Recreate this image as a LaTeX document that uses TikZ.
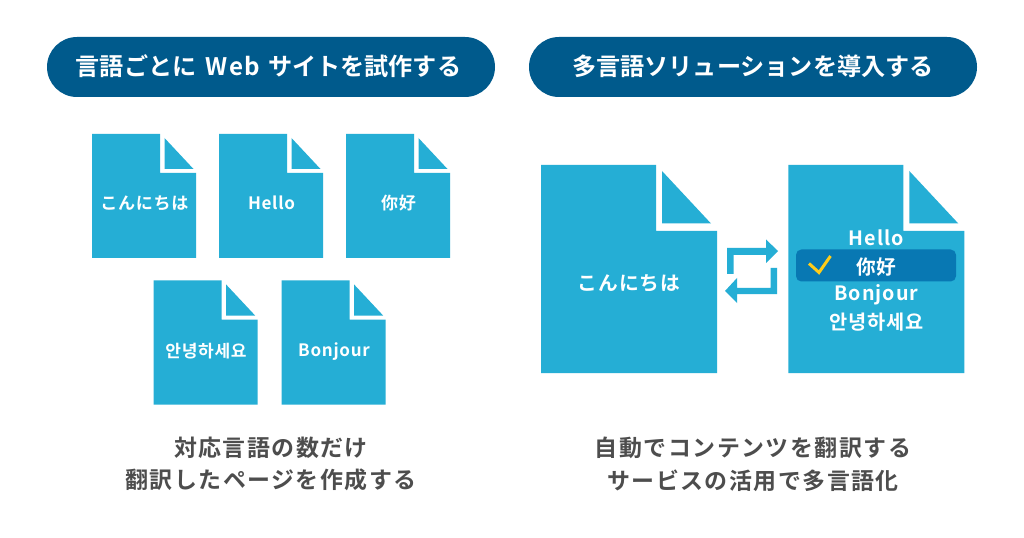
\documentclass[tikz,border=0pt]{standalone}
\usepackage{fontspec}
\setmainfont{Noto Sans CJK JP}[BoldFont={Noto Sans CJK JP Bold}]
\newfontfamily\jpb{Noto Sans CJK JP Bold}
\newfontfamily\jpbT{Noto Sans CJK JP Bold}[LetterSpace=5]
\newfontfamily\jpbS{Noto Sans CJK JP Bold}[LetterSpace=4]
\newfontfamily\jpbB{Noto Sans CJK JP Bold}[LetterSpace=5]
\newfontfamily\jpbC{Noto Sans CJK JP Bold}[LetterSpace=6.5]
\definecolor{pillblue}{HTML}{005A8C}
\definecolor{docblue}{HTML}{25AED5}
\definecolor{selblue}{HTML}{0878B3}
\definecolor{chk}{HTML}{FFCC1A}
\definecolor{txtgray}{HTML}{4D4D4D}
\tikzset{
 x=0.75pt,y=-0.75pt,
 pill/.style={fill=pillblue,rounded corners=22.5pt,draw=none},
 ttl/.style={text=white,font=\jpb\fontsize{18.1pt}{22pt}\selectfont,inner sep=0},
 docfill/.style={fill=docblue,draw=none},
 lbl/.style={text=white,font=\jpbS\fontsize{12.8pt}{15pt}\selectfont,inner sep=0},
 lbig/.style={text=white,font=\jpbB\fontsize{14.8pt}{17pt}\selectfont,inner sep=0},
 captxt/.style={text=txtgray,font=\jpbC\fontsize{17.2pt}{24.5pt}\selectfont,inner sep=0,align=center},
}
\newcommand{\smalldoc}[2]{%
 \fill[docfill] (#1,#2) -- ++(68,0) -- ++(0,39) -- ++(36,0) -- ++(0,85) -- ++(-104,0) -- cycle;
 \fill[docfill] (#1+72.5,#2+4) -- ++(0,31) -- ++(29,0) -- cycle;}
\newcommand{\bigdoc}[2]{%
 \fill[docfill] (#1,#2) -- ++(115,0) -- ++(0,66) -- ++(61,0) -- ++(0,142) -- ++(-176,0) -- cycle;
 \fill[docfill] (#1+121,#2+6) -- ++(0,52.5) -- ++(49,0) -- cycle;}
\begin{document}
\begin{tikzpicture}
\useasboundingbox (0,0) rectangle (1024,538);
\fill[white] (0,0) rectangle (1024,538);
\fill[pill] (47,37) rectangle (495,97);
\fill[pill] (529,37) rectangle (977,97);
\node[ttl] (t1) at (268.5,66.5) {言語ごとに\hspace{3pt} {\jpbT\fontsize{18.1pt}{22pt}\selectfont Web}\hspace{2pt} サイトを試作する};
\node[ttl] (t2) at (753,66.5) {多言語ソリューションを導入する};
\smalldoc{92}{134}\smalldoc{219}{134}\smalldoc{346}{134}
\smalldoc{153.6}{280.5}\smalldoc{281.6}{280.5}
\node[lbl] (a) at (144.5,203) {こんにちは};
\node[lbl] (b) at (271.5,203) {Hello};
\node[lbl] (c) at (398.5,203) {你好};
\node[lbl] (d) at (206,351) {안녕하세요};
\node[lbl] (e) at (334,351.5) {Bonjour};
\bigdoc{541}{165}\bigdoc{788.3}{165}
\node[lbig] (f) at (629,283.5) {こんにちは};
\fill[selblue,rounded corners=4pt] (796,249.5) rectangle (956,281.5);
\node[lbig] (g) at (876.5,238) {Hello};
\node[lbig] (h) at (876.5,267) {你好};
\node[lbig] (i) at (876.5,295) {Bonjour};
\node[lbig] (j) at (876.5,322) {안녕하세요};
\draw[chk,line width=2.25pt] (809,263.5) -- (819,272.5) -- (830.5,256);
\fill[docblue] (727,274) -- (727,248) -- (766,248) -- (766,239.5) -- (778,251) -- (766,263) -- (766,255) -- (733.5,255) -- (733.5,274) -- cycle;
\fill[docblue] (777,268) -- (777,294) -- (737,294) -- (737,303) -- (725,291) -- (737,278) -- (737,288) -- (770.5,288) -- (770.5,268) -- cycle;
\node[captxt] (k) at (271,464) {対応言語の数だけ\\翻訳したページを作成する};
\node[captxt] (l) at (753,464) {自動でコンテンツを翻訳する\\サービスの活用で多言語化};
\end{tikzpicture}
\end{document}
